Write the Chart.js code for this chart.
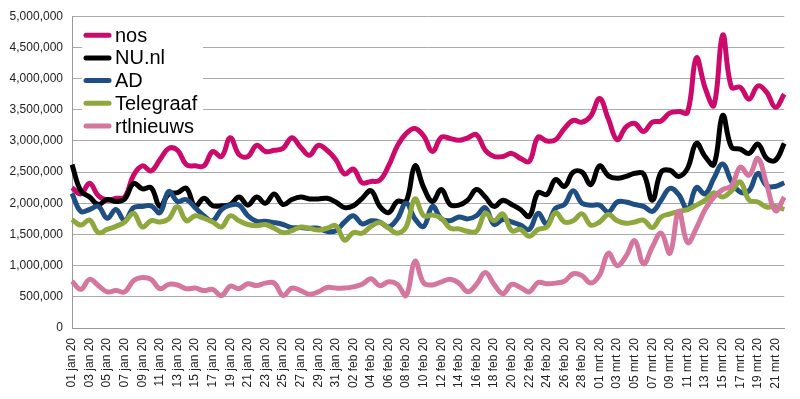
<!DOCTYPE html>
<html>
<head>
<meta charset="utf-8">
<script src="https://cdn.jsdelivr.net/npm/chart.js@4"></script>
<style>
  body { margin: 0; background: #fff; }
  #wrap { width: 800px; height: 399px; }
</style>
</head>
<body>
<div id="wrap"><canvas id="chart"></canvas></div>
<script>
// daily page views, 1 jan - 22 mrt 2020
const days = [
  '01 jan 20','02 jan 20','03 jan 20','04 jan 20','05 jan 20','06 jan 20','07 jan 20','08 jan 20','09 jan 20','10 jan 20',
  '11 jan 20','12 jan 20','13 jan 20','14 jan 20','15 jan 20','16 jan 20','17 jan 20','18 jan 20','19 jan 20','20 jan 20',
  '21 jan 20','22 jan 20','23 jan 20','24 jan 20','25 jan 20','26 jan 20','27 jan 20','28 jan 20','29 jan 20','30 jan 20',
  '31 jan 20','01 feb 20','02 feb 20','03 feb 20','04 feb 20','05 feb 20','06 feb 20','07 feb 20','08 feb 20','09 feb 20',
  '10 feb 20','11 feb 20','12 feb 20','13 feb 20','14 feb 20','15 feb 20','16 feb 20','17 feb 20','18 feb 20','19 feb 20',
  '20 feb 20','21 feb 20','22 feb 20','23 feb 20','24 feb 20','25 feb 20','26 feb 20','27 feb 20','28 feb 20','29 feb 20',
  '01 mrt 20','02 mrt 20','03 mrt 20','04 mrt 20','05 mrt 20','06 mrt 20','07 mrt 20','08 mrt 20','09 mrt 20','10 mrt 20',
  '11 mrt 20','12 mrt 20','13 mrt 20','14 mrt 20','15 mrt 20','16 mrt 20','17 mrt 20','18 mrt 20','19 mrt 20','20 mrt 20',
  '21 mrt 20','22 mrt 20'
];

const nos = [
  2250000,2150000,2320000,2120000,2050000,2080000,2100000,2450000,2600000,2520000,
  2700000,2880000,2850000,2620000,2600000,2600000,2830000,2750000,3050000,2780000,
  2750000,2930000,2830000,2850000,2880000,3050000,2900000,2770000,2930000,2850000,
  2700000,2470000,2550000,2330000,2350000,2370000,2600000,2920000,3120000,3200000,
  3080000,2830000,3060000,3040000,3010000,3050000,3100000,2850000,2750000,2750000,
  2800000,2720000,2670000,3060000,3000000,3020000,3200000,3330000,3300000,3400000,
  3680000,3350000,3020000,3220000,3280000,3150000,3300000,3320000,3450000,3470000,
  3460000,4330000,3850000,3570000,4700000,3860000,3860000,3670000,3880000,3780000,
  3540000,3750000
];
const nuNl = [
  2620000,2200000,2100000,1980000,2060000,2030000,2070000,2320000,2230000,2250000,
  1950000,2150000,2170000,2240000,1950000,2080000,1960000,1960000,1980000,2100000,
  1970000,2100000,2000000,2150000,1980000,2060000,2100000,2070000,2070000,2080000,
  2020000,1930000,1960000,2080000,2200000,1950000,1850000,2030000,2030000,2600000,
  2250000,2030000,2220000,1980000,1970000,2050000,2220000,2100000,1950000,2050000,
  1980000,1900000,1790000,2170000,2140000,2380000,2270000,2500000,2500000,2300000,
  2600000,2440000,2400000,2430000,2480000,2470000,2050000,2500000,2530000,2430000,
  2560000,2960000,2750000,2620000,3410000,2900000,2870000,2800000,2950000,2720000,
  2690000,2960000
];
const ad = [
  2160000,1870000,1900000,1950000,1760000,1900000,1720000,1930000,1950000,1960000,
  1850000,2190000,2030000,2060000,1930000,1800000,1720000,1900000,1970000,1970000,
  1800000,1710000,1710000,1690000,1660000,1610000,1610000,1600000,1600000,1550000,
  1560000,1700000,1800000,1670000,1720000,1700000,1620000,1750000,2000000,1750000,
  1630000,1950000,1750000,1720000,1780000,1750000,1800000,1930000,1660000,1740000,
  1700000,1650000,1580000,1840000,1670000,1920000,1980000,2200000,2000000,1970000,
  1970000,1860000,2020000,2020000,1980000,1950000,1870000,2050000,2240000,2140000,
  1900000,2250000,2150000,2400000,2630000,2350000,2180000,2200000,2480000,2280000,
  2270000,2330000
];
const telegraaf = [
  1740000,1650000,1730000,1530000,1580000,1630000,1700000,1840000,1620000,1720000,
  1700000,1750000,1950000,1720000,1800000,1760000,1700000,1620000,1800000,1720000,
  1660000,1640000,1660000,1600000,1530000,1560000,1620000,1600000,1570000,1600000,
  1640000,1410000,1530000,1520000,1630000,1690000,1600000,1520000,1620000,2070000,
  1800000,1810000,1760000,1600000,1590000,1550000,1550000,1840000,1720000,1830000,
  1560000,1580000,1470000,1580000,1620000,1850000,1700000,1720000,1830000,1650000,
  1700000,1820000,1720000,1680000,1700000,1730000,1610000,1780000,1830000,1870000,
  1900000,1970000,2050000,2170000,2100000,2200000,2340000,2050000,2020000,1940000,
  1950000,1900000
];
const rtlnieuws = [
  750000,620000,780000,680000,580000,600000,580000,760000,810000,780000,
  630000,700000,690000,630000,640000,600000,620000,520000,670000,630000,
  710000,680000,720000,720000,520000,640000,600000,540000,580000,650000,
  640000,640000,660000,700000,790000,680000,740000,700000,520000,1070000,
  720000,690000,740000,780000,720000,580000,700000,890000,700000,550000,
  700000,650000,580000,730000,710000,720000,750000,870000,840000,720000,
  850000,1200000,1000000,1150000,1400000,1030000,1300000,1520000,1200000,1870000,
  1370000,1600000,1900000,2100000,2220000,2280000,2580000,2450000,2720000,2300000,
  1880000,2100000
];

const seriesNames = ['nos', 'NU.nl', 'AD', 'Telegraaf', 'rtlnieuws'];
const seriesColors = ['#cc0a6b', '#000000', '#1f4f82', '#8ea83e', '#d4769e'];
const seriesData = [nos, nuNl, ad, telegraaf, rtlnieuws];

const font = '"Liberation Sans", Arial, sans-serif';

// legend drawn inside the plot, white box over the gridlines
const insideLegend = {
  id: 'insideLegend',
  beforeDatasetsDraw(chart) {
    const ctx = chart.ctx;
    const left = chart.chartArea.left;
    const top = chart.chartArea.top;
    ctx.save();
    ctx.fillStyle = '#fff';
    ctx.fillRect(left + 10, top + 7, 121, 112);
    chart.data.datasets.forEach((ds, i) => {
      const y = top + 19 + i * 22.7;
      ctx.strokeStyle = ds.borderColor;
      ctx.lineWidth = 5;
      ctx.lineCap = 'round';
      ctx.beginPath();
      ctx.moveTo(left + 14, y);
      ctx.lineTo(left + 37, y);
      ctx.stroke();
      ctx.fillStyle = '#000';
      ctx.font = '20px ' + font;
      ctx.textBaseline = 'middle';
      ctx.fillText(ds.label, left + 43, y + 1);
    });
    ctx.restore();
  }
};

const ctx = document.getElementById('chart').getContext('2d');
new Chart(ctx, {
  type: 'line',
  data: {
    labels: days,
    datasets: seriesData.map((d, i) => ({
      label: seriesNames[i],
      data: d,
      borderColor: seriesColors[i],
      backgroundColor: seriesColors[i],
      borderWidth: 5,
      pointRadius: 0,
      tension: 0.4,
      fill: false,
      order: seriesNames.length - i
    }))
  },
  options: {
    responsive: true,
    maintainAspectRatio: false,
    animation: false,
    layout: { padding: { top: 13, right: 12, left: 0, bottom: 0 } },
    plugins: {
      legend: { display: false },
      tooltip: { enabled: false }
    },
    scales: {
      x: {
        grid: { display: false, drawTicks: false },
        border: { display: true, color: '#999' },
        ticks: {
          autoSkip: false,
          minRotation: 90,
          maxRotation: 90,
          padding: 10,
          color: '#222',
          font: { family: font, size: 12 },
          callback: (v, i) => (i % 2 === 0 ? days[i] : null)
        },
        afterFit: s => { s.height = 71; }
      },
      y: {
        min: 0,
        max: 5000000,
        grid: { color: '#aaa', drawTicks: false },
        border: { display: true, color: '#999' },
        ticks: {
          stepSize: 500000,
          padding: 9,
          color: '#222',
          font: { family: font, size: 12 },
          callback: v => v.toLocaleString('en-US')
        },
        afterFit: s => { s.width = 72; }
      }
    }
  },
  plugins: [insideLegend]
});
</script>
</body>
</html>
